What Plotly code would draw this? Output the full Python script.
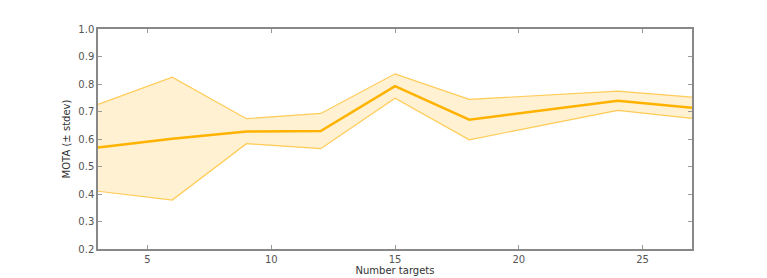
import plotly.graph_objects as go

targets = [3, 6, 9, 12, 15, 18, 24, 27]
mota_mean = [0.569, 0.601, 0.627, 0.629, 0.792, 0.670, 0.739, 0.714]
mota_upper = [0.726, 0.825, 0.674, 0.693, 0.837, 0.744, 0.774, 0.752]
mota_lower = [0.410, 0.378, 0.583, 0.565, 0.748, 0.597, 0.704, 0.675]

fig = go.Figure()
fig.add_trace(go.Scatter(x=targets, y=mota_lower, mode="lines",
                         line=dict(color="rgba(255,195,60,0.85)", width=1.2),
                         showlegend=False, hoverinfo="skip"))
fig.add_trace(go.Scatter(x=targets, y=mota_upper, mode="lines", fill="tonexty",
                         fillcolor="rgba(255,205,90,0.28)",
                         line=dict(color="rgba(255,195,60,0.85)", width=1.2),
                         showlegend=False, hoverinfo="skip"))
fig.add_trace(go.Scatter(x=targets, y=mota_mean, mode="lines",
                         line=dict(color="#FFB300", width=2.5), showlegend=False))

axis_common = dict(showgrid=False, zeroline=False, showline=True, linecolor="#888",
                   linewidth=1.5, mirror="ticks", ticks="inside", ticklen=4, automargin=False,
                   tickcolor="#999", tickfont=dict(family="DejaVu Sans", size=10, color="#555"))
fig.update_xaxes(range=[3, 27], tickvals=[5, 10, 15, 20, 25],
                 title=dict(text="Number targets", font=dict(family="DejaVu Sans", size=10, color="#333"), standoff=3),
                 **axis_common)
fig.update_yaxes(range=[0.2, 1.0], dtick=0.1, tickformat=".1f",
                 title=dict(text="MOTA (± stdev)", font=dict(family="DejaVu Sans", size=10, color="#333"), standoff=6),
                 **axis_common)
fig.update_layout(width=767, height=278, margin=dict(l=90, r=83, t=21, b=37),
                  plot_bgcolor="white", paper_bgcolor="white")
fig.write_html("out.html")
